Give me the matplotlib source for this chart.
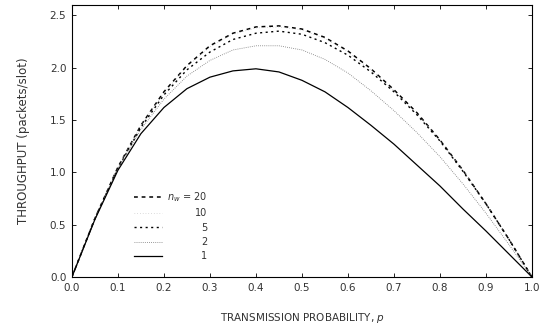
import numpy as np
import matplotlib
matplotlib.use('Agg')
import matplotlib.pyplot as plt

p = [0.0, 0.05, 0.1, 0.15, 0.2, 0.25, 0.3, 0.35, 0.4, 0.45, 0.5,
     0.55, 0.6, 0.65, 0.7, 0.75, 0.8, 0.85, 0.9, 0.95, 1.0]

# throughput, one list per n_w
thr_20 = [0.0, 0.56, 1.05, 1.45, 1.77, 2.02, 2.21, 2.33, 2.39, 2.40, 2.37,
          2.29, 2.16, 1.99, 1.79, 1.57, 1.31, 1.02, 0.70, 0.36, 0.0]
thr_10 = [0.0, 0.56, 1.05, 1.45, 1.76, 2.01, 2.20, 2.32, 2.38, 2.39, 2.36,
          2.28, 2.15, 1.98, 1.78, 1.56, 1.31, 1.02, 0.70, 0.36, 0.0]
thr_5 = [0.0, 0.56, 1.04, 1.43, 1.74, 1.98, 2.15, 2.27, 2.33, 2.35, 2.32,
         2.24, 2.12, 1.96, 1.77, 1.55, 1.30, 1.01, 0.70, 0.36, 0.0]
thr_2 = [0.0, 0.56, 1.04, 1.41, 1.70, 1.92, 2.07, 2.17, 2.21, 2.21, 2.17,
         2.08, 1.95, 1.78, 1.59, 1.38, 1.15, 0.89, 0.61, 0.31, 0.0]
thr_1 = [0.0, 0.55, 1.02, 1.37, 1.62, 1.80, 1.91, 1.97, 1.99, 1.96, 1.88,
         1.77, 1.62, 1.45, 1.27, 1.07, 0.87, 0.65, 0.44, 0.22, 0.0]

labels = ['$n_w$ = 20', '10', '5', '2', '1']

txt = '#333333'
plt.rcParams['font.family'] = 'DejaVu Sans'

fig = plt.figure(figsize=(5.53, 3.31), dpi=100)
ax = fig.add_axes([0.130, 0.163, 0.832, 0.822])

ax.plot(p, thr_20, color='black', lw=1.1, ls=(0, (2.5, 2.5)), label=labels[0])
ax.plot(p, thr_10, color='#bbbbbb', lw=0.5, ls=(0, (1, 3)), label=labels[1])
ax.plot(p, thr_5, color='black', lw=1.0, ls=(0, (1.5, 2.5)), label=labels[2])
ax.plot(p, thr_2, color='#777777', lw=0.6, ls=(0, (1, 1.5)), label=labels[3])
ax.plot(p, thr_1, color='black', lw=0.9, ls='-', label=labels[4])

ax.set_xlim(0, 1.0)
ax.set_ylim(0, 2.6)
ax.set_xticks(np.arange(0, 1.01, 0.1))
ax.set_xticklabels(['%.1f' % v for v in np.arange(0, 1.01, 0.1)])
ax.set_yticks([0, 0.5, 1.0, 1.5, 2.0, 2.5])
ax.set_yticklabels(['0.0', '0.5', '1.0', '1.5', '2.0', '2.5'])
ax.tick_params(direction='in', length=3, width=0.6, labelsize=7.5,
               labelcolor=txt, top=True, right=True, pad=4)
for s in ax.spines.values():
    s.set_linewidth(0.8)

ax.set_xlabel('TRANSMISSION PROBABILITY, $p$', fontsize=7.5, color=txt, labelpad=13)
ax.set_ylabel('THROUGHPUT (packets/slot)', fontsize=8.5, color=txt, labelpad=14)

leg = ax.legend(loc='upper left', bbox_to_anchor=(0.135, 0.32), frameon=False,
                fontsize=7, handlelength=2.9, handletextpad=0.5,
                labelspacing=0.45, borderpad=0, borderaxespad=0)

# right-align the legend labels like the original
fig.canvas.draw()
r = fig.canvas.get_renderer()
boxes = [t.get_window_extent(r) for t in leg.get_texts()]
xr = max(b.x1 for b in boxes)
for t, b in zip(leg.get_texts(), boxes):
    fig.text(xr / fig.bbox.width, (b.y0 + b.y1) / 2 / fig.bbox.height,
             t.get_text(), ha='right', va='center', fontsize=7, color=txt)
    t.set_visible(False)

fig.savefig('out.png', dpi=100)
